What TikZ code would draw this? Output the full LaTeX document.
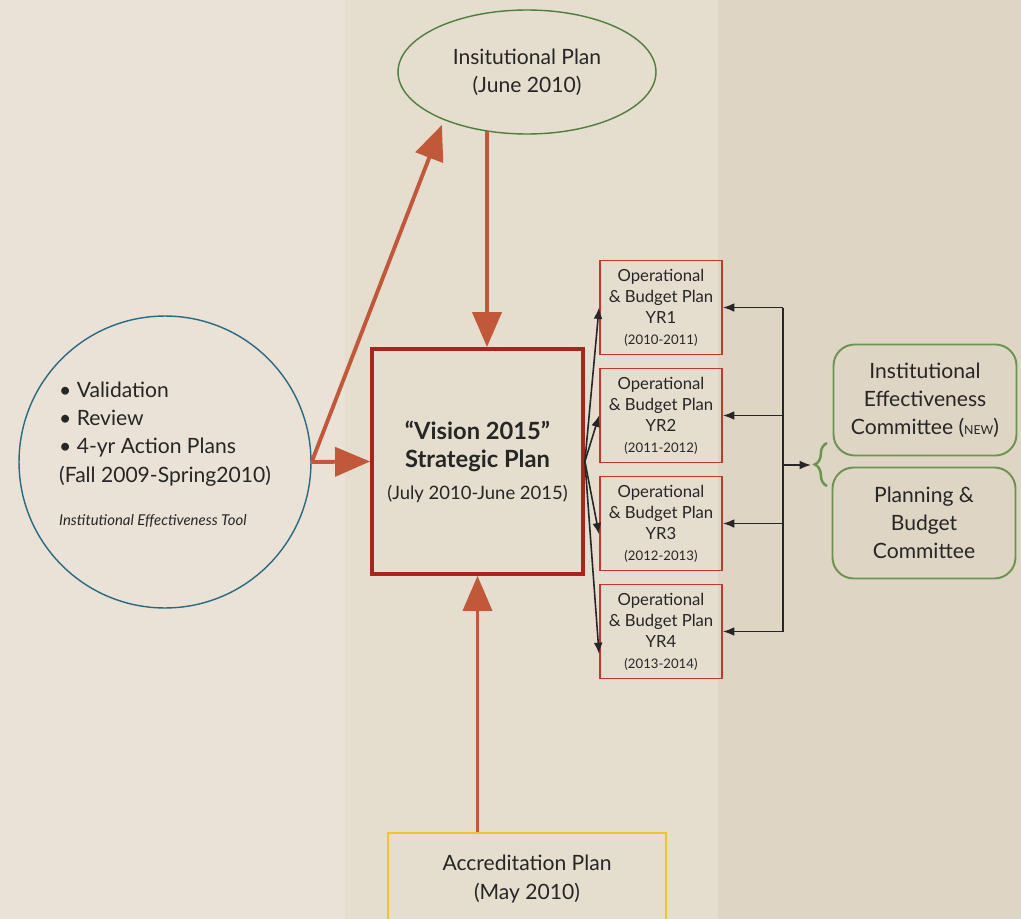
\documentclass[tikz,border=0pt]{standalone}
\usepackage{fontspec}
\setmainfont{Lato}
\usetikzlibrary{arrows.meta,shapes.geometric,decorations.pathreplacing}

\definecolor{bandleft}{HTML}{EAE2D6}
\definecolor{bandmid}{HTML}{E5DDCE}
\definecolor{bandright}{HTML}{DFD5C4}
\definecolor{planorange}{HTML}{C1583A}
\definecolor{stratred}{HTML}{A8251B}
\definecolor{opred}{HTML}{BF3A2E}
\definecolor{insgreen}{HTML}{4D7F3B}
\definecolor{comgreen}{HTML}{6A9450}
\definecolor{toolblue}{HTML}{2A6A82}
\definecolor{accyellow}{HTML}{F4C12F}

\begin{document}
\begin{tikzpicture}[x=0.02cm,y=-0.02cm,
    every node/.style={text=black!85, inner sep=0pt},
    bigarrow/.style={line width=2.2pt, draw=planorange, -{Triangle[length=0.7cm,width=0.58cm]}},
    thinarrow/.style={line width=0.9pt, draw=black!85, -{Latex[length=6.5pt,width=5pt]}},
    opbox/.style={draw=opred, line width=1.1pt, minimum width=2.44cm, minimum height=1.88cm,
        align=center, font=\fontsize{9.5}{12}\selectfont},
    combox/.style={draw=comgreen, line width=1.1pt, rounded corners=12pt, minimum width=3.66cm,
        minimum height=2.22cm, align=center, font=\fontsize{12}{16}\selectfont}]
    \useasboundingbox (0,0) rectangle (1021,919);

    % Background bands
    \fill[bandleft] (0,0) rectangle (345,919);
    \fill[bandmid] (345,0) rectangle (718,919);
    \fill[bandright] (718,0) rectangle (1021,919);

    % Plans
    \node[draw=insgreen, line width=0.8pt, ellipse, minimum width=5.16cm, minimum height=2.48cm,
        align=center, font=\fontsize{12}{16}\selectfont] (ins) at (527,72)
        {Insitutional Plan\\(June 2010)};
    \node[draw=toolblue, line width=0.8pt, circle, minimum size=5.84cm, align=left,
        font=\fontsize{12}{16}\selectfont] (tool) at (165,462)
        {\textbullet\ Validation\\ \textbullet\ Review\\ \textbullet\ 4-yr Action Plans\\
         (Fall 2009-Spring2010)\\[9pt] {\fontsize{8.5}{10}\selectfont\itshape Institutional Effectiveness Tool}\\[-7pt]\mbox{}};
    \node[draw=stratred, line width=2.2pt, minimum width=4.22cm, minimum height=4.5cm,
        align=center, font=\fontsize{13.5}{16}\selectfont\bfseries] (strat) at (477.5,461.5)
        {``Vision 2015''\\ Strategic Plan\\[2pt]
         \fontsize{10.5}{13}\selectfont\mdseries (July 2010-June 2015)};
    \node[draw=accyellow, line width=1.1pt, minimum width=5.56cm, minimum height=1.84cm,
        align=center, font=\fontsize{12}{16}\selectfont] (acc) at (527,879)
        {Accreditation Plan\\(May 2010)};

    % Operational plans
    \foreach \i/\yrs in {1/2010-2011,2/2011-2012,3/2012-2013,4/2013-2014}
        \node[opbox] (op\i) at (661,199.5+108*\i)
            {Operational\\\& Budget Plan\\YR\i\\{\fontsize{7.5}{10}\selectfont(\yrs)}};

    % Committees
    \node[combox] (iec) at (925,400) {Institutional\\Effectiveness\\Committee ({\scriptsize NEW})};
    \node[combox] (pbc) at (924,523) {Planning \&\\Budget\\Committee};

    % Arrows between plans
    \coordinate (insfoot) at (487,131);
    \draw[bigarrow] (tool.east) -- (strat.west);
    \draw[bigarrow, shorten >=3pt] (tool.east) -- (ins.210);
    \draw[bigarrow] (insfoot) -- (insfoot |- strat.north);
    \draw[bigarrow] (acc.north -| strat.south) -- (strat.south);

    % Strategic plan to each year
    \draw[thinarrow] (strat.east) -- (op1.west);
    \draw[thinarrow] (strat.east) -- (op2.west);
    \draw[thinarrow] (strat.east) -- (op3.190);
    \draw[thinarrow] (strat.east) -- (op4.200);

    % Committee feedback
    \coordinate (bus) at (783,465);
    \coordinate (brace) at (811,465);
    \draw[line width=0.9pt, black!85] (op1.east -| bus) -- (op4.east -| bus);
    \foreach \i in {1,...,4}
        \draw[thinarrow] (op\i.east -| bus) -- (op\i.east);
    \draw[thinarrow] (bus) -- (brace);
    \draw[comgreen, line width=1.4pt, decorate, decoration={brace, amplitude=7pt}] (827,486) -- (827,443);
\end{tikzpicture}
\end{document}
